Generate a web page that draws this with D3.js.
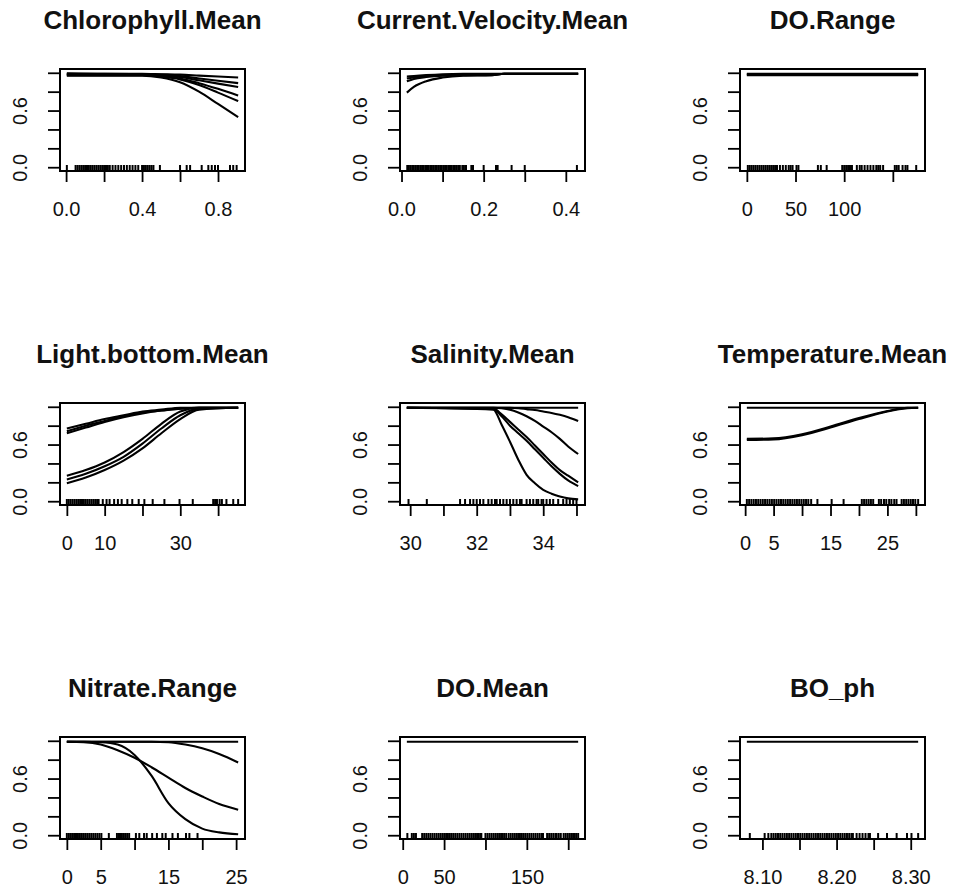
<!DOCTYPE html>
<html>
<head>
<meta charset="utf-8">
<script src="https://cdn.jsdelivr.net/npm/d3@7"></script>
<style>
  body { margin: 0; background: #fff; }
  svg { display: block; font-family: "Liberation Sans", Arial, sans-serif; }
</style>
</head>
<body>
<svg id="chart" width="958" height="893"></svg>
<script>
// predictor names, in the order the panels are laid out (3 x 3)
var titles = ["Chlorophyll.Mean", "Current.Velocity.Mean", "DO.Range",
  "Light.bottom.Mean", "Salinity.Mean", "Temperature.Mean",
  "Nitrate.Range", "DO.Mean", "BO_ph"];

var yTicks = [0, 0.2, 0.4, 0.6, 0.8, 1.0];
var yTickText = ["0.0", "", "", "0.6", "", ""];

// Chlorophyll.Mean
var chlRange = [0.004, 0.906];
var chlTicks = [0, 0.2, 0.4, 0.6, 0.8];
var chlTickText = ["0.0", "", "0.4", "", "0.8"];
var chlX = [0.004, 0.2, 0.4, 0.5, 0.6, 0.7, 0.8, 0.906];
var chlCurves = [
  [0.995, 0.99, 0.99, 0.985, 0.98, 0.97, 0.96, 0.95],
  [0.99, 0.99, 0.985, 0.98, 0.965, 0.94, 0.915, 0.89],
  [0.985, 0.985, 0.985, 0.975, 0.955, 0.92, 0.885, 0.85],
  [0.98, 0.98, 0.98, 0.965, 0.94, 0.89, 0.83, 0.76],
  [0.975, 0.975, 0.975, 0.96, 0.93, 0.87, 0.79, 0.70],
  [0.97, 0.97, 0.97, 0.95, 0.90, 0.80, 0.67, 0.53]
];
var chlRug = [0.004, 0.05, 0.06, 0.07, 0.08, 0.09, 0.1, 0.11, 0.12, 0.13, 0.14, 0.15, 0.16, 0.17, 0.18, 0.19, 0.2,
  0.21, 0.22, 0.23, 0.245, 0.26, 0.275, 0.29, 0.305, 0.32, 0.335, 0.35, 0.365, 0.38, 0.4, 0.41, 0.42, 0.43, 0.44,
  0.45, 0.46, 0.494, 0.6, 0.635, 0.653, 0.714, 0.749, 0.767, 0.784, 0.8, 0.863, 0.88, 0.898];

// Current.Velocity.Mean
var cvRange = [0.013, 0.43];
var cvTicks = [0, 0.1, 0.2, 0.3, 0.4];
var cvTickText = ["0.0", "", "0.2", "", "0.4"];
var cvX = [0.013, 0.03, 0.06, 0.1, 0.15, 0.22, 0.25, 0.43];
var cvCurves = [
  [0.96, 0.965, 0.975, 0.985, 0.99, 0.99, 0.99, 0.99],
  [0.94, 0.95, 0.965, 0.975, 0.98, 0.98, 0.99, 0.99],
  [0.91, 0.935, 0.955, 0.97, 0.975, 0.975, 0.99, 0.99],
  [0.79, 0.85, 0.91, 0.95, 0.97, 0.975, 0.99, 0.99]
];
var cvRug = [0.014, 0.018, 0.022, 0.026, 0.03, 0.034, 0.038, 0.042, 0.046, 0.05, 0.054, 0.058, 0.062, 0.066, 0.07,
  0.074, 0.078, 0.082, 0.086, 0.09, 0.094, 0.098, 0.102, 0.106, 0.11, 0.114, 0.118, 0.122, 0.126, 0.13, 0.134,
  0.138, 0.142, 0.148, 0.152, 0.157, 0.17, 0.174, 0.2, 0.23, 0.234, 0.268, 0.3, 0.427];

// DO.Range
var doRRange = [0, 176];
var doRTicks = [0, 50, 100, 150];
var doRTickText = ["0", "50", "100", ""];
var doRX = [0, 176];
var doRCurves = [[0.975, 0.975], [0.983, 0.983], [0.99, 0.99]];
var doRRug = [1, 3, 5, 7, 9, 11, 13, 15, 17, 19, 21, 23, 25, 27, 29, 31, 34, 37, 40, 43, 45, 47, 51, 53, 73, 76, 82,
  98, 100, 102, 104, 106, 108, 113, 116, 118, 121, 124, 127, 130, 133, 135, 137, 140, 152, 154, 156, 160, 163, 165, 174];

// Light.bottom.Mean
var lightRange = [0, 45.3];
var lightTicks = [0, 10, 20, 30, 40];
var lightTickText = ["0", "10", "", "30", ""];
var lightX = [0, 5, 10, 15, 20, 25, 30, 35, 45.3];
var lightCurves = [
  [0.77, 0.82, 0.87, 0.91, 0.95, 0.97, 0.99, 0.99, 0.99],
  [0.74, 0.80, 0.85, 0.90, 0.94, 0.96, 0.98, 0.99, 0.99],
  [0.72, 0.78, 0.84, 0.89, 0.93, 0.96, 0.98, 0.99, 0.99],
  [0.27, 0.33, 0.41, 0.52, 0.66, 0.82, 0.95, 0.99, 0.99],
  [0.23, 0.29, 0.37, 0.47, 0.61, 0.77, 0.91, 0.98, 0.99],
  [0.19, 0.25, 0.33, 0.43, 0.56, 0.72, 0.87, 0.97, 0.99]
];
var lightRug = [0, 0.5, 1, 1.5, 2, 2.5, 3, 3.5, 4, 4.5, 5, 5.5, 6, 6.5, 7, 7.5, 8, 8.4, 9.5, 10.5, 11.3, 12.5, 13.5,
  14.5, 16, 17.3, 19, 20.5, 22.7, 25.8, 29.8, 33.3, 38.7, 39.2, 39.7, 40.4, 41, 42.2, 44, 45.3];

// Salinity.Mean
var salRange = [29.9, 35.05];
var salTicks = [30, 31, 32, 33, 34, 35];
var salTickText = ["30", "", "32", "", "34", ""];
var salX = [29.9, 32.5, 32.75, 33.0, 33.25, 33.5, 33.75, 34.0, 34.25, 34.5, 34.75, 35.05];
var salCurves = [
  [0.99, 0.99, 0.99, 0.99, 0.99, 0.99, 0.99, 0.99, 0.99, 0.99, 0.99, 0.99],
  [0.99, 0.99, 0.99, 0.99, 0.985, 0.975, 0.965, 0.95, 0.935, 0.915, 0.89, 0.85],
  [0.99, 0.99, 0.985, 0.97, 0.94, 0.9, 0.85, 0.79, 0.73, 0.66, 0.58, 0.50],
  [0.99, 0.98, 0.92, 0.84, 0.76, 0.68, 0.59, 0.5, 0.41, 0.33, 0.27, 0.20],
  [0.99, 0.98, 0.90, 0.80, 0.72, 0.64, 0.55, 0.46, 0.37, 0.29, 0.22, 0.16],
  [0.99, 0.97, 0.81, 0.63, 0.44, 0.28, 0.19, 0.12, 0.08, 0.05, 0.03, 0.02]
];
var salRug = [29.95, 30.5, 31.5, 31.65, 31.8, 31.9, 32.0, 32.1, 32.2, 32.35, 32.45, 32.55, 32.6, 32.7, 32.8, 32.9,
  33.0, 33.1, 33.2, 33.3, 33.35, 33.5, 33.6, 33.7, 33.8, 33.85, 33.95, 34.0, 34.1, 34.2, 34.3, 34.45, 34.6, 34.7,
  34.8, 34.9, 35.0];

// Temperature.Mean
var tempRange = [0.3, 30.4];
var tempTicks = [0, 5, 10, 15, 20, 25, 30];
var tempTickText = ["0", "5", "", "15", "", "25", ""];
var tempX = [0.3, 5, 10, 15, 20, 25, 28.5, 30.4];
var tempCurves = [
  [0.99, 0.99, 0.99, 0.99, 0.99, 0.99, 0.99, 0.99],
  [0.65, 0.655, 0.70, 0.78, 0.87, 0.95, 0.985, 0.99],
  [0.66, 0.665, 0.71, 0.79, 0.88, 0.955, 0.99, 0.99]
];
var tempRug = [0.3, 0.7, 1.1, 1.5, 1.9, 2.3, 2.7, 3.1, 3.5, 3.9, 4.3, 4.7, 5.1, 5.5, 5.9, 6.3, 6.7, 7.1, 7.5, 7.9,
  8.3, 8.7, 9.1, 9.5, 9.9, 10.3, 10.7, 11.1, 11.6, 12.7, 15.2, 17.3, 20.5, 20.9, 21.3, 21.7, 22.1, 22.5, 23.5, 23.9,
  24.4, 24.8, 25.3, 25.7, 26.2, 26.6, 27.5, 27.9, 28.3, 28.7, 29.1, 29.5, 29.9, 30.4];

// Nitrate.Range
var nitRange = [0, 25.3];
var nitTicks = [0, 5, 10, 15, 20, 25];
var nitTickText = ["0", "5", "", "15", "", "25"];
var nitX = [0, 2.5, 5, 7.5, 10, 12.5, 15, 17.5, 20, 22.5, 25.3];
var nitCurves = [
  [0.99, 0.99, 0.99, 0.99, 0.99, 0.99, 0.99, 0.99, 0.99, 0.99, 0.99],
  [0.99, 0.99, 0.99, 0.99, 0.99, 0.99, 0.985, 0.96, 0.92, 0.86, 0.77],
  [0.99, 0.985, 0.96, 0.90, 0.82, 0.72, 0.61, 0.50, 0.41, 0.33, 0.27],
  [0.99, 0.99, 0.985, 0.96, 0.85, 0.63, 0.34, 0.17, 0.07, 0.03, 0.01]
];
var nitRug = [0, 0.3, 0.6, 0.9, 1.2, 1.5, 1.8, 2.1, 2.4, 2.7, 3, 3.3, 3.6, 3.9, 4.2, 4.5, 4.8, 5.1, 6.2, 7.4, 7.7,
  8, 8.3, 8.6, 8.9, 9.2, 10.2, 10.7, 11.4, 11.8, 12.6, 13.3, 14.1, 14.6, 15.6, 16.4, 17.6, 18.1, 19.3];

// DO.Mean
var doMRange = [5, 212];
var doMTicks = [0, 50, 100, 150, 200];
var doMTickText = ["0", "50", "", "150", ""];
var doMX = [5, 212];
var doMCurves = [[0.99, 0.99]];
var doMRug = [5.6, 11, 13.5, 16, 23.5, 26, 28.5, 31, 33.5, 36, 38.5, 41, 43.5, 46, 48.5, 51, 53.5, 56, 58.5, 61, 63.5,
  66, 68.5, 71, 73.5, 76, 78.5, 81, 83.5, 86, 88.5, 91, 93.5, 95, 100, 102.5, 105, 107.5, 110, 112.5, 115, 117.5,
  120, 122.5, 125, 128, 130.5, 133, 135.5, 138, 140.5, 143, 145.5, 148, 150.5, 153, 155.5, 158, 160.5, 163, 165.5,
  168, 169.5, 174.5, 177, 179.5, 182, 184.5, 186, 188.5, 191, 194.5, 197, 199.5, 202, 204.5, 207, 209.5, 212];

// BO_ph
var phRange = [8.079, 8.31];
var phTicks = [8.10, 8.15, 8.20, 8.25, 8.30];
var phTickText = ["8.10", "", "8.20", "", "8.30"];
var phX = [8.079, 8.31];
var phCurves = [[0.99, 0.99]];
var phRug = [8.083, 8.103, 8.108, 8.112, 8.115, 8.118, 8.121, 8.124, 8.127, 8.13, 8.133, 8.136, 8.139, 8.142, 8.145,
  8.148, 8.151, 8.154, 8.157, 8.16, 8.163, 8.166, 8.169, 8.172, 8.175, 8.178, 8.181, 8.184, 8.187, 8.19, 8.193,
  8.196, 8.199, 8.202, 8.205, 8.208, 8.211, 8.214, 8.217, 8.22, 8.222, 8.227, 8.231, 8.235, 8.239, 8.243, 8.245,
  8.256, 8.268, 8.281, 8.295, 8.301, 8.31];

var panels = [
  {range: chlRange, ticks: chlTicks, tickText: chlTickText, x: chlX, curves: chlCurves, rug: chlRug},
  {range: cvRange, ticks: cvTicks, tickText: cvTickText, x: cvX, curves: cvCurves, rug: cvRug},
  {range: doRRange, ticks: doRTicks, tickText: doRTickText, x: doRX, curves: doRCurves, rug: doRRug},
  {range: lightRange, ticks: lightTicks, tickText: lightTickText, x: lightX, curves: lightCurves, rug: lightRug},
  {range: salRange, ticks: salTicks, tickText: salTickText, x: salX, curves: salCurves, rug: salRug},
  {range: tempRange, ticks: tempTicks, tickText: tempTickText, x: tempX, curves: tempCurves, rug: tempRug},
  {range: nitRange, ticks: nitTicks, tickText: nitTickText, x: nitX, curves: nitCurves, rug: nitRug},
  {range: doMRange, ticks: doMTicks, tickText: doMTickText, x: doMX, curves: doMCurves, rug: doMRug},
  {range: phRange, ticks: phTicks, tickText: phTickText, x: phX, curves: phCurves, rug: phRug}
];

var svg = d3.select("#chart");
var colLeft = [60, 400, 740], rowTop = [69, 403, 737];
var boxW = 185, boxH = 102;

panels.forEach(function(p, i) {
  var L = colLeft[i % 3], T = rowTop[Math.floor(i / 3)];
  // R style axis: data range widened by 4% each side
  var pad = (p.range[1] - p.range[0]) * 0.04;
  var x = d3.scaleLinear().domain([p.range[0] - pad, p.range[1] + pad]).range([L, L + boxW]);
  var y = d3.scaleLinear().domain([-0.04, 1.04]).range([T + boxH, T]);
  var g = svg.append("g");

  g.append("text")
    .attr("x", L + boxW / 2)
    .attr("y", T - 40)
    .attr("text-anchor", "middle")
    .attr("font-size", 26)
    .attr("font-weight", "bold")
    .attr("fill", "#111")
    .text(titles[i]);

  var line = d3.line()
    .x(function(d) { return x(d[0]); })
    .y(function(d) { return y(d[1]); })
    .curve(d3.curveMonotoneX);

  g.append("g")
    .selectAll("path")
    .data(p.curves)
    .enter().append("path")
      .attr("d", function(c) { return line(c.map(function(v, k) { return [p.x[k], v]; })); })
      .attr("fill", "none")
      .attr("stroke", "#000")
      .attr("stroke-width", 2.1);

  g.append("g")
    .selectAll("line")
    .data(p.rug)
    .enter().append("line")
      .attr("x1", function(d) { return x(d); })
      .attr("x2", function(d) { return x(d); })
      .attr("y1", T + boxH)
      .attr("y2", T + boxH - 6)
      .attr("stroke", "#000")
      .attr("stroke-width", 2);

  var xa = g.append("g")
    .attr("transform", "translate(0," + (T + boxH) + ")")
    .call(d3.axisBottom(x).tickValues(p.ticks).tickSize(11)
      .tickFormat(function(d, k) { return p.tickText[k]; }));
  xa.select(".domain").remove();
  xa.selectAll("line").attr("stroke", "#000").attr("stroke-width", 1.8);
  xa.selectAll("text")
    .attr("y", 45).attr("dy", null)
    .attr("font-size", 20).attr("font-family", "Liberation Sans, Arial, sans-serif").attr("fill", "#111");

  var ya = g.append("g")
    .attr("transform", "translate(" + L + ",0)")
    .call(d3.axisLeft(y).tickValues(yTicks).tickSize(12)
      .tickFormat(function(d, k) { return yTickText[k]; }));
  ya.select(".domain").remove();
  ya.selectAll("line").attr("stroke", "#000").attr("stroke-width", 1.8);
  ya.selectAll("text")
    .attr("transform", "rotate(-90)")
    .attr("x", 0).attr("y", -33).attr("dy", null)
    .attr("text-anchor", "middle")
    .attr("font-size", 20).attr("font-family", "Liberation Sans, Arial, sans-serif").attr("fill", "#111");

  g.append("rect")
    .attr("x", L).attr("y", T)
    .attr("width", boxW).attr("height", boxH)
    .attr("fill", "none")
    .attr("stroke", "#000")
    .attr("stroke-width", 2);
});
</script>
</body>
</html>
